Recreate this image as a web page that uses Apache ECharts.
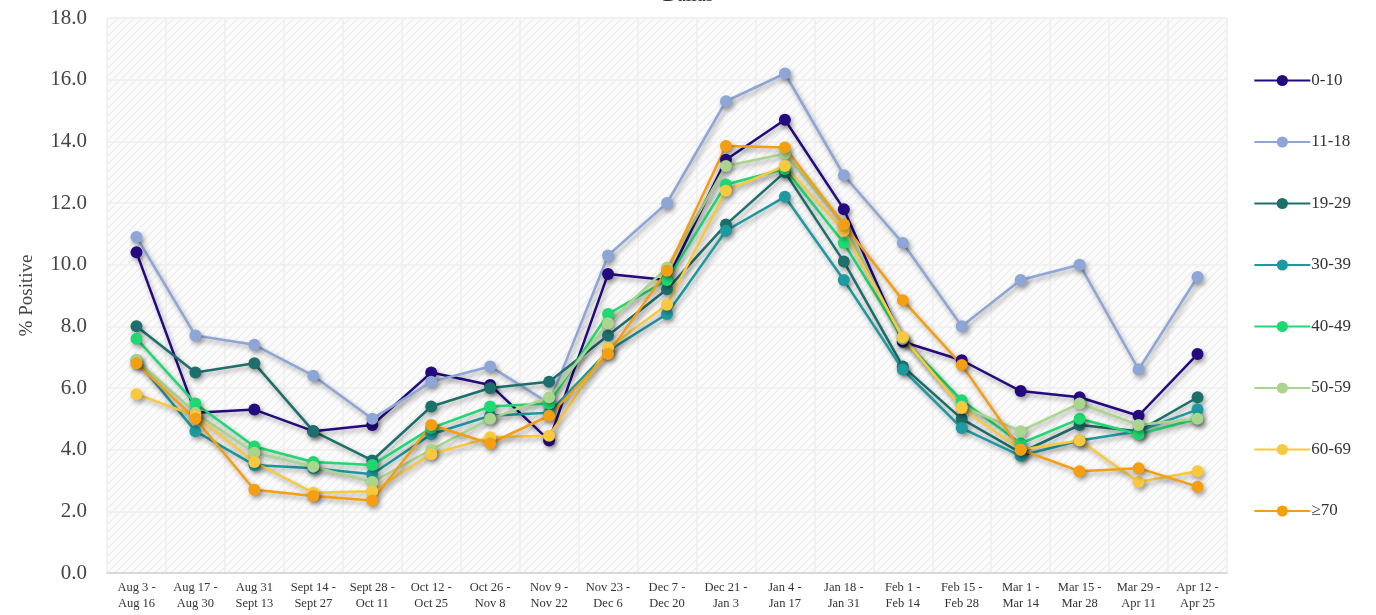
<!DOCTYPE html>
<html>
<head>
<meta charset="utf-8">
<script src="https://cdn.jsdelivr.net/npm/echarts@6/dist/echarts.min.js"></script>
<style>html,body{margin:0;padding:0;background:#fff;}#c{width:1376px;height:615px;}</style>
</head>
<body>
<div id="c"></div>
<script>
const categories = ["Aug 3 -\nAug 16","Aug 17 -\nAug 30","Aug 31\nSept 13","Sept 14 -\nSept 27","Sept 28 -\nOct 11","Oct 12 -\nOct 25","Oct 26 -\nNov 8","Nov 9 -\nNov 22","Nov 23 -\nDec 6","Dec 7 -\nDec 20","Dec 21 -\nJan 3","Jan 4 -\nJan 17","Jan 18 -\nJan 31","Feb 1 -\nFeb 14","Feb 15 -\nFeb 28","Mar 1 -\nMar 14","Mar 15 -\nMar 28","Mar 29 -\nApr 11","Apr 12 -\nApr 25"];
const seriesNames = ["0-10","11-18","19-29","30-39","40-49","50-59","60-69","\u226570"];
const s0_10  = [10.4,5.2,5.3,4.6,4.8,6.5,6.1,4.3,9.7,9.5,13.4,14.7,11.8,7.5,6.9,5.9,5.7,5.1,7.1];
const s11_18 = [10.9,7.7,7.4,6.4,5.0,6.2,6.7,5.5,10.3,12.0,15.3,16.2,12.9,10.7,8.0,9.5,10.0,6.6,9.6];
const s19_29 = [8.0,6.5,6.8,4.6,3.65,5.4,6.0,6.2,7.7,9.2,11.3,13.0,10.1,6.7,5.0,3.9,4.8,4.6,5.7];
const s30_39 = [6.9,4.6,3.5,3.4,3.2,4.5,5.1,5.2,7.2,8.4,11.1,12.2,9.5,6.6,4.7,3.8,4.3,4.6,5.3];
const s40_49 = [7.6,5.5,4.1,3.6,3.5,4.7,5.4,5.5,8.4,9.5,12.6,13.1,10.7,7.6,5.6,4.2,5.0,4.5,5.0];
const s50_59 = [6.9,5.2,3.9,3.45,2.95,4.0,5.0,5.7,8.1,9.9,13.2,13.6,11.3,7.6,5.4,4.6,5.5,4.8,5.0];
const s60_69 = [5.8,5.1,3.6,2.6,2.65,3.85,4.4,4.45,7.3,8.7,12.4,13.2,11.1,7.65,5.35,4.0,4.3,2.95,3.3];
const s70    = [6.8,5.0,2.7,2.5,2.35,4.8,4.2,5.1,7.1,9.8,13.85,13.8,11.3,8.85,6.75,4.0,3.3,3.4,2.8];
const yTicks = [0,2,4,6,8,10,12,14,16,18];
const colors = ["#25097f","#8ea6d6","#1d6f6c","#1c9a9f","#1fd86f","#a9d68c","#f8c93e","#f59e12"];
const allData = [s0_10,s11_18,s19_29,s30_39,s40_49,s50_59,s60_69,s70];

// hatch pattern
const pc = document.createElement('canvas');
pc.width = 8; pc.height = 8;
const g = pc.getContext('2d');
g.fillStyle = '#fbfbfb'; g.fillRect(0,0,8,8);
g.strokeStyle = '#ececec'; g.lineWidth = 1.2;
g.beginPath(); g.moveTo(0,8); g.lineTo(8,0); g.moveTo(-2,2); g.lineTo(2,-2); g.moveTo(6,10); g.lineTo(10,6); g.stroke();

const chart = echarts.init(document.getElementById('c'), null, {renderer:'canvas'});
const font = '"Liberation Serif", "DejaVu Serif", serif';
chart.setOption({
  animation: false,
  color: colors,
  title: {text: 'Dallas', left: 'center', top: -19, textStyle:{fontFamily: font, fontSize: 20, fontWeight: 'normal', color:'#333'}},
  grid: {left: 107, right: 149, top: 18, bottom: 42, show: true, borderWidth: 0, backgroundColor: {image: pc, repeat: 'repeat'}},
  legend: {
    orient: 'vertical', right: 20, top: 67, itemGap: 44.5, itemWidth: 56, itemHeight: 14,
    data: seriesNames,
    textStyle: {fontFamily: font, fontSize: 17, color: '#333', padding:[0,0,0,-4]}
  },
  xAxis: {
    type: 'category', data: categories, boundaryGap: true,
    axisLine: {show: true, lineStyle:{color:'#d0d0d0', width: 1.5}},
    axisTick: {show: false},
    splitLine: {show: true, lineStyle:{color:'#eeeeee', width: 1.5}},
    axisLabel: {interval: 0, fontFamily: font, fontSize: 12.5, color:'#333', lineHeight: 16, margin: 7}
  },
  yAxis: {
    type: 'value', min: 0, max: 18, interval: 2,
    name: '% Positive', nameLocation: 'middle', nameGap: 70, nameRotate: 90,
    nameTextStyle: {fontFamily: font, fontSize: 19, color:'#444'},
    axisLine: {show:false}, axisTick:{show:false},
    splitLine: {show: true, lineStyle:{color:'#eeeeee', width: 1.5}},
    axisLabel: {fontFamily: font, fontSize: 21, color:'#444', margin: 20, formatter: v => yTicks.indexOf(v) >= 0 ? v.toFixed(1) : ''}
  },
  series: seriesNames.map((n,i) => ({
    name: n, type: 'line', data: allData[i],
    symbol: 'circle', symbolSize: 12,
    lineStyle: {width: 2.5, color: colors[i], shadowColor: 'rgba(0,0,0,0.35)', shadowBlur: 5, shadowOffsetX: 2, shadowOffsetY: 3},
    itemStyle: {color: colors[i], shadowColor: 'rgba(0,0,0,0.35)', shadowBlur: 5, shadowOffsetX: 2, shadowOffsetY: 3}
  }))
});
</script>
</body>
</html>
